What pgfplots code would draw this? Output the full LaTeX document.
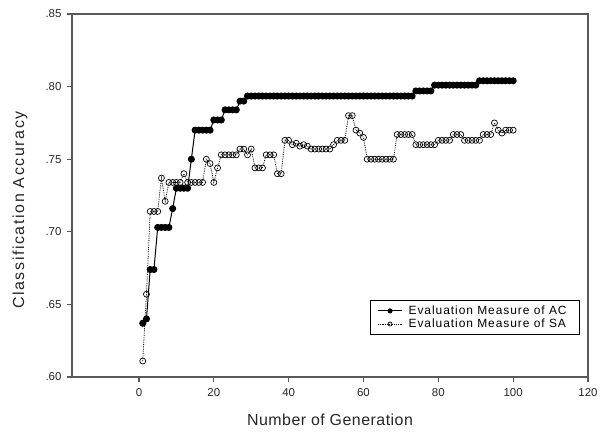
\documentclass[border=0pt]{standalone}
\usepackage{pgfplots}
\pgfplotsset{compat=1.18}
\usepackage{pgfplotstable}
\usepackage{fontspec}
\setmainfont{Liberation Sans}

% Evaluation Measure of AC (generation, accuracy)
\pgfplotstableread{
gen acc
1 .637
2 .640
3 .674
4 .674
5 .703
6 .703
7 .703
8 .703
9 .716
10 .730
11 .730
12 .730
13 .730
14 .750
15 .770
16 .770
17 .770
18 .770
19 .770
20 .777
21 .777
22 .777
23 .784
24 .784
25 .784
26 .784
27 .790
28 .790
29 .7935
30 .7935
31 .7935
32 .7935
33 .7935
34 .7935
35 .7935
36 .7935
37 .7935
38 .7935
39 .7935
40 .7935
41 .7935
42 .7935
43 .7935
44 .7935
45 .7935
46 .7935
47 .7935
48 .7935
49 .7935
50 .7935
51 .7935
52 .7935
53 .7935
54 .7935
55 .7935
56 .7935
57 .7935
58 .7935
59 .7935
60 .7935
61 .7935
62 .7935
63 .7935
64 .7935
65 .7935
66 .7935
67 .7935
68 .7935
69 .7935
70 .7935
71 .7935
72 .7935
73 .7935
74 .797
75 .797
76 .797
77 .797
78 .797
79 .801
80 .801
81 .801
82 .801
83 .801
84 .801
85 .801
86 .801
87 .801
88 .801
89 .801
90 .801
91 .804
92 .804
93 .804
94 .804
95 .804
96 .804
97 .804
98 .804
99 .804
100 .804
}\tableAC

% Evaluation Measure of SA
\pgfplotstableread{
gen acc
1 .611
2 .657
3 .714
4 .714
5 .714
6 .737
7 .721
8 .734
9 .734
10 .734
11 .734
12 .740
13 .734
14 .734
15 .734
16 .734
17 .734
18 .750
19 .747
20 .734
21 .744
22 .753
23 .753
24 .753
25 .753
26 .753
27 .757
28 .757
29 .753
30 .757
31 .744
32 .744
33 .744
34 .753
35 .753
36 .753
37 .740
38 .740
39 .763
40 .763
41 .760
42 .761
43 .759
44 .760
45 .759
46 .757
47 .757
48 .757
49 .757
50 .757
51 .757
52 .760
53 .763
54 .763
55 .763
56 .780
57 .780
58 .770
59 .768
60 .765
61 .750
62 .750
63 .750
64 .750
65 .750
66 .750
67 .750
68 .750
69 .767
70 .767
71 .767
72 .767
73 .767
74 .760
75 .760
76 .760
77 .760
78 .760
79 .760
80 .763
81 .763
82 .763
83 .763
84 .767
85 .767
86 .767
87 .763
88 .763
89 .763
90 .763
91 .763
92 .767
93 .767
94 .767
95 .775
96 .770
97 .768
98 .770
99 .770
100 .770
}\tableSA

\begin{document}
\begin{tikzpicture}
\begin{axis}[
    scale only axis,
    width=516bp, height=363bp,
    xmin=-17.9, xmax=120,
    ymin=0.60, ymax=0.85,
    xtick={0,20,40,60,80,100,120},
    xticklabels={0,20,40,60,80,100,120},
    ytick={0.60,0.65,0.70,0.75,0.80,0.85},
    yticklabels={.60,.65,.70,.75,.80,.85},
    tick align=outside,
    xtick pos=bottom, ytick pos=left,
    major tick length=5bp,
    axis line style={black!65, line width=1.4bp},
    every tick/.style={black!65, line width=1.1bp},
    tick label style={font=\fontsize{11.5}{13}\selectfont, text=black!85},
    xticklabel style={yshift=-3bp},
    yticklabel style={xshift=-2bp},
    xlabel={Number of Generation},
    ylabel={Classification Accuracy},
    xlabel style={font=\fontsize{16}{18}\selectfont\addfontfeatures{LetterSpace=3},
        text=black!85, at={(axis description cs:0.5,-0.118)}, anchor=center},
    ylabel style={font=\fontsize{16}{18}\selectfont\addfontfeatures{LetterSpace=10},
        text=black!85, at={(axis description cs:-0.1008,0.46)}, anchor=center},
    legend style={at={(0.9845,0.1157)}, anchor=south east,
        draw=black, line width=0.8bp, fill=white,
        font=\fontsize{12}{14}\selectfont\addfontfeatures{LetterSpace=8},
        inner xsep=7bp, inner ysep=3.5bp, row sep=-1bp,
        nodes={inner xsep=6bp}},
    legend cell align=left,
    legend image code/.code={
        \draw[mark repeat=2, mark phase=2, #1, mark size=2bp]
            plot coordinates {(0bp,0bp) (12bp,0bp) (24bp,0bp)};},
]
\addplot[black, line width=1bp, mark=*, mark size=3bp,
    mark options={solid, fill=black}] table[x=gen, y=acc] {\tableAC};
\addlegendentry{Evaluation Measure of AC}
\addplot[black, line width=0.8bp, densely dotted, mark=o, mark size=3bp,
    mark options={solid, fill=white, line width=0.7bp}] table[x=gen, y=acc] {\tableSA};
\addlegendentry{Evaluation Measure of SA}
\end{axis}
\pgfresetboundingbox
\path ([xshift=-72bp,yshift=-57bp]current axis.south west)
    rectangle ([xshift=15bp,yshift=14bp]current axis.north east);
\end{tikzpicture}
\end{document}
